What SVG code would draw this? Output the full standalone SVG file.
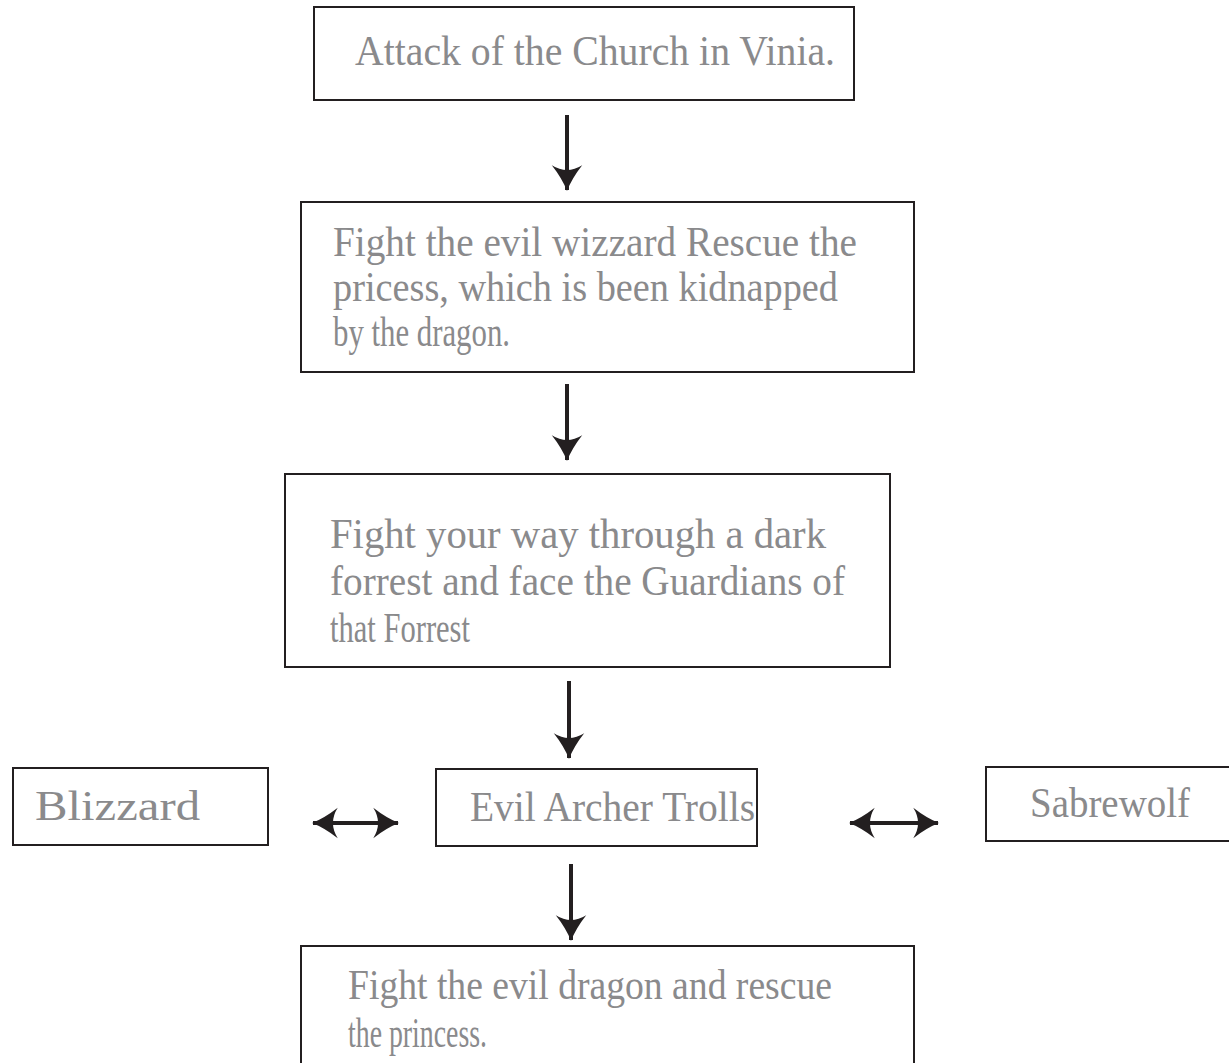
<svg xmlns="http://www.w3.org/2000/svg" width="1229" height="1063" viewBox="0 0 1229 1063">
<style>
.box{fill:#fff;stroke:#231f20;stroke-width:2}
.t{font-family:"Liberation Serif",serif;font-size:42px;fill:#8a8a8c}
.ln{stroke:#231f20;stroke-width:4;fill:none}
</style>
<defs>
<marker id="ah2" viewBox="0 0 20 20" refX="19" refY="10" markerWidth="38" markerHeight="38" markerUnits="userSpaceOnUse" orient="auto-start-reverse">
<path d="M6,2 Q13,7.5 19.5,10 Q13,12.5 6,18 Q11,10 6,2 Z" fill="#231f20"/>
</marker>
</defs>
<rect width="1229" height="1063" fill="#fff"/>
<g id="n1"><rect class="box" x="314" y="7" width="540" height="93"/>
<text class="t" x="355" y="65" textLength="480" lengthAdjust="spacingAndGlyphs">Attack of the Church in Vinia.</text></g>
<g id="n2"><rect class="box" x="301" y="202" width="613" height="170"/>
<text class="t" x="333" y="256" textLength="524" lengthAdjust="spacingAndGlyphs">Fight the evil wizzard Rescue the</text>
<text class="t" x="333" y="301" textLength="505" lengthAdjust="spacingAndGlyphs">pricess, which is been kidnapped</text>
<text class="t" x="333" y="346" textLength="177" lengthAdjust="spacingAndGlyphs">by the dragon.</text></g>
<g id="n3"><rect class="box" x="285" y="474" width="605" height="193"/>
<text class="t" x="330" y="548" textLength="496" lengthAdjust="spacingAndGlyphs">Fight your way through a dark</text>
<text class="t" x="330" y="595" textLength="515" lengthAdjust="spacingAndGlyphs">forrest and face the Guardians of</text>
<text class="t" x="330" y="642" textLength="140" lengthAdjust="spacingAndGlyphs">that Forrest</text></g>
<g id="n4"><rect class="box" x="13" y="768" width="255" height="77"/>
<text class="t" x="35" y="820" textLength="165" lengthAdjust="spacingAndGlyphs">Blizzard</text></g>
<g id="n5"><rect class="box" x="436" y="769" width="321" height="77"/>
<text class="t" x="470" y="821" textLength="285" lengthAdjust="spacingAndGlyphs">Evil Archer Trolls</text></g>
<g id="n6"><rect class="box" x="986" y="767" width="250" height="74"/>
<text class="t" x="1030" y="817" textLength="160" lengthAdjust="spacingAndGlyphs">Sabrewolf</text></g>
<g id="n7"><rect class="box" x="301" y="946" width="613" height="130"/>
<text class="t" x="348" y="999" textLength="484" lengthAdjust="spacingAndGlyphs">Fight the evil dragon and rescue</text>
<text class="t" x="348" y="1047" textLength="139" lengthAdjust="spacingAndGlyphs">the princess.</text></g>
<g id="connectors">
<line class="ln" x1="567" y1="115" x2="567" y2="190" marker-end="url(#ah2)"/>
<line class="ln" x1="567" y1="384" x2="567" y2="460" marker-end="url(#ah2)"/>
<line class="ln" x1="569" y1="681" x2="569" y2="758" marker-end="url(#ah2)"/>
<line class="ln" x1="571" y1="864" x2="571" y2="940" marker-end="url(#ah2)"/>
<line class="ln" x1="313" y1="823" x2="398" y2="823" marker-start="url(#ah2)" marker-end="url(#ah2)"/>
<line class="ln" x1="850" y1="823" x2="938" y2="823" marker-start="url(#ah2)" marker-end="url(#ah2)"/>
</g>
</svg>
